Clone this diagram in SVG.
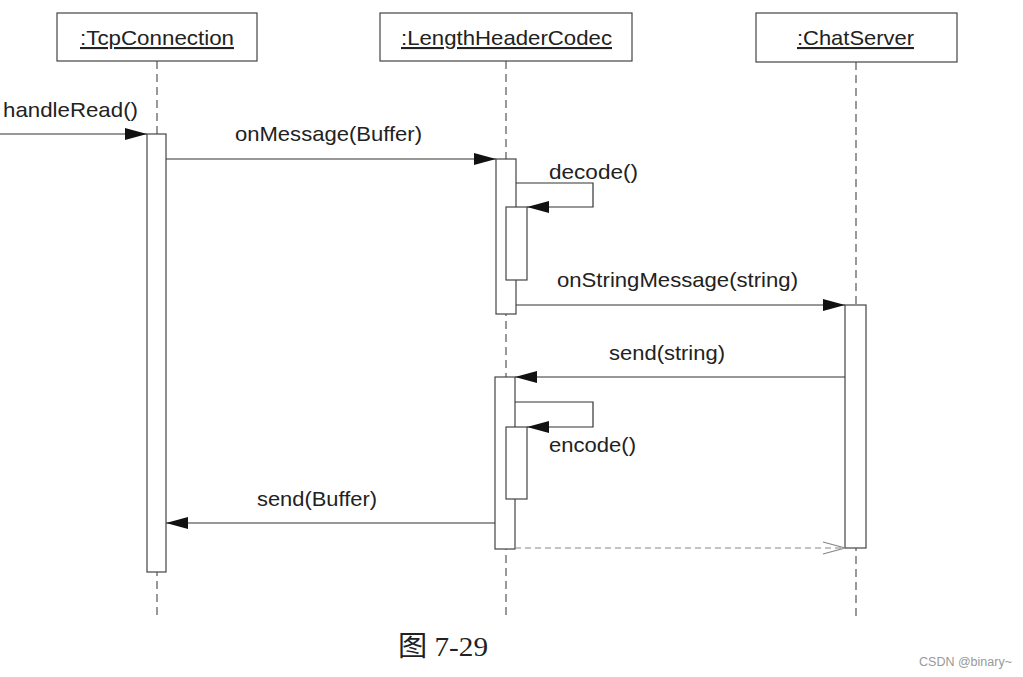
<svg xmlns="http://www.w3.org/2000/svg" width="1023" height="677" viewBox="0 0 1023 677">
<style>
.box{fill:#fff;stroke:#444;stroke-width:1.2}
.act{fill:#fff;stroke:#444;stroke-width:1.2}
.life{stroke:#555;stroke-width:1.2;stroke-dasharray:8 5;fill:none}
.msg{stroke:#333;stroke-width:1.2;fill:none}
.ret{stroke:#888;stroke-width:1.2;stroke-dasharray:6 4;fill:none}
.lbl{font-family:"Liberation Sans",Arial,sans-serif;font-size:21px;fill:#222}
.name{font-family:"Liberation Sans",Arial,sans-serif;font-size:21px;fill:#222;text-decoration:underline}
.cap{font-family:"Liberation Serif","Noto Sans CJK SC",serif;font-size:28px;fill:#222}
.wm{font-family:"Liberation Sans",Arial,sans-serif;font-size:12px;fill:#999}
</style>
<defs>
<marker id="fill" markerUnits="userSpaceOnUse" markerWidth="24" markerHeight="14" refX="22" refY="6" orient="auto">
<path d="M0,0 L22,6 L0,12 z" fill="#111"/>
</marker>
<marker id="open" markerUnits="userSpaceOnUse" markerWidth="26" markerHeight="16" refX="23" refY="7" orient="auto">
<path d="M1,1 L23,7 L1,13" fill="none" stroke="#888" stroke-width="1.2"/>
</marker>
</defs>
<rect width="1023" height="677" fill="#fff"/>
<g id="tcpconnection">
<line class="life" x1="157" y1="61" x2="157" y2="616"/>
<rect class="box" x="57" y="13" width="200" height="48"/>
<text class="name" x="80" y="45" textLength="154" lengthAdjust="spacingAndGlyphs">:TcpConnection</text>
<rect class="act" x="147" y="134" width="19" height="438"/>
</g>
<g id="lengthheadercodec">
<line class="life" x1="506" y1="61" x2="506" y2="616"/>
<rect class="box" x="380" y="13" width="252" height="48"/>
<text class="name" x="401" y="45" textLength="211" lengthAdjust="spacingAndGlyphs">:LengthHeaderCodec</text>
<rect class="act" x="496" y="159" width="20" height="155"/>
<rect class="act" x="506" y="207" width="21" height="73"/>
<rect class="act" x="495" y="377" width="20" height="172"/>
<rect class="act" x="506" y="427" width="21" height="72"/>
</g>
<g id="chatserver">
<line class="life" x1="856" y1="62" x2="856" y2="616"/>
<rect class="box" x="756" y="13" width="201" height="49"/>
<text class="name" x="797" y="45" textLength="117" lengthAdjust="spacingAndGlyphs">:ChatServer</text>
<rect class="act" x="845" y="305" width="21" height="243"/>
</g>
<g id="connectors">
<line class="msg" x1="0" y1="134" x2="147" y2="134" marker-end="url(#fill)"/>
<text class="lbl" x="3" y="117" textLength="135" lengthAdjust="spacingAndGlyphs">handleRead()</text>
<line class="msg" x1="166" y1="159" x2="496" y2="159" marker-end="url(#fill)"/>
<text class="lbl" x="235" y="141" textLength="187" lengthAdjust="spacingAndGlyphs">onMessage(Buffer)</text>
<polyline class="msg" points="516,183 593,183 593,207 527,207" marker-end="url(#fill)"/>
<text class="lbl" x="549" y="179" textLength="89" lengthAdjust="spacingAndGlyphs">decode()</text>
<line class="msg" x1="516" y1="305" x2="845" y2="305" marker-end="url(#fill)"/>
<text class="lbl" x="557" y="287" textLength="241" lengthAdjust="spacingAndGlyphs">onStringMessage(string)</text>
<line class="msg" x1="845" y1="377" x2="515" y2="377" marker-end="url(#fill)"/>
<text class="lbl" x="609" y="360" textLength="116" lengthAdjust="spacingAndGlyphs">send(string)</text>
<polyline class="msg" points="515,402 593,402 593,427 527,427" marker-end="url(#fill)"/>
<text class="lbl" x="549" y="452" textLength="87" lengthAdjust="spacingAndGlyphs">encode()</text>
<line class="msg" x1="495" y1="523" x2="166" y2="523" marker-end="url(#fill)"/>
<text class="lbl" x="257" y="506" textLength="120" lengthAdjust="spacingAndGlyphs">send(Buffer)</text>
<line class="ret" x1="515" y1="548" x2="845" y2="548" marker-end="url(#open)"/>
</g>
<text class="cap" x="398" y="656" textLength="90" lengthAdjust="spacingAndGlyphs">图 7-29</text>
<text class="wm" x="919" y="666" textLength="93" lengthAdjust="spacingAndGlyphs">CSDN @binary~</text>
</svg>
